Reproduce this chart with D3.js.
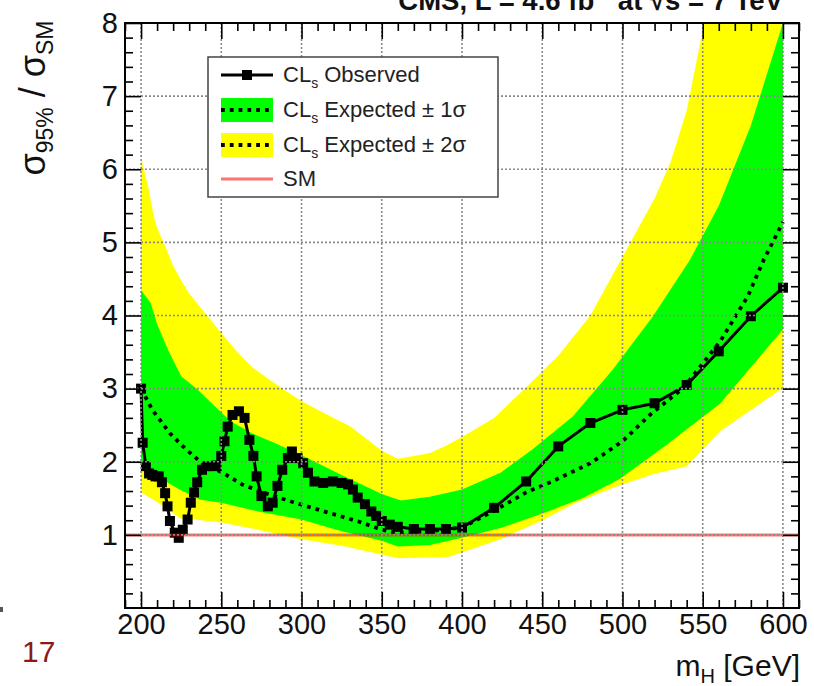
<!DOCTYPE html>
<html><head><meta charset="utf-8">
<script src="https://cdn.jsdelivr.net/npm/d3@7/dist/d3.min.js"></script>
<style>
body{margin:0;background:#fff}
svg{display:block}
text{font-family:"Liberation Sans",Arial,Helvetica,sans-serif}
</style>
</head><body>
<svg id="chart" width="814" height="686"></svg>
<script>
// ---------------- data ----------------
const xMajorTicks = [200,250,300,350,400,450,500,550,600];
const yMajorTicks = [1,2,3,4,5,6,7,8];

const obsMass = [200,201,203,205,207,209,211,213,215,216.5,218,221,223.5,226,229,231,233,235,238,241.5,245,247,250,252,254,257,261,264.5,267.5,270,272,275,279,282,285,288,291.5,294,297.5,301,304,308,313.5,319.5,325,329,332,335,339.5,343.5,346.5,350,355,360,370,380,390,400,420,440,460,480,500,520,540,560,580,600];
const obsValue = [3.0,2.26,1.94,1.84,1.82,1.80,1.80,1.72,1.57,1.39,1.19,1.03,0.96,1.07,1.21,1.44,1.58,1.72,1.89,1.94,1.94,1.95,2.08,2.28,2.48,2.64,2.69,2.60,2.30,2.08,1.80,1.53,1.39,1.44,1.67,1.89,2.05,2.14,2.05,1.98,1.85,1.73,1.71,1.73,1.71,1.69,1.62,1.51,1.42,1.32,1.26,1.19,1.14,1.11,1.08,1.08,1.08,1.10,1.37,1.73,2.21,2.53,2.71,2.80,3.05,3.51,3.99,4.38];

const expMass = [200,207,218,228,238,251,263,276,290,305,322,336,350,359,380,400,420,440,459,480,500,517,538,561,578,588,600];
const expValue = [3.0,2.71,2.39,2.17,1.98,1.85,1.69,1.58,1.48,1.38,1.27,1.18,1.07,1.03,1.05,1.10,1.33,1.58,1.76,1.98,2.28,2.64,3.01,3.65,4.26,4.76,5.28];

const up2Mass = [200,205,208,210,215,220,225,230,240,250,260,270,280,290,300,310,320,330,340,350,360,370,380,390,400,420,440,460,480,500,520,530,540,550,560,580,600];
const up2Value = [6.17,5.7,5.35,5.2,4.95,4.68,4.48,4.3,4.03,3.76,3.5,3.28,3.12,2.97,2.83,2.71,2.6,2.49,2.32,2.15,2.04,2.08,2.12,2.22,2.34,2.6,3.02,3.45,4.0,4.8,5.6,6.1,6.8,7.9,9.2,11.5,14.0];

const up1Mass = [200,206,210,217,225,235,244,256,270,283,300,325,350,362,380,400,424,444,469,494,519,542,560,580,600];
const up1Value = [4.35,4.17,3.88,3.52,3.17,2.99,2.80,2.55,2.38,2.26,2.09,1.82,1.56,1.47,1.52,1.62,1.85,2.17,2.62,3.26,3.99,4.76,5.5,6.6,8.0];

const dn1Mass = [200,205,213,224,237,250,273,300,325,350,360,380,400,425,451,475,498,528,561,600];
const dn1Value = [2.02,1.9,1.76,1.62,1.48,1.44,1.32,1.21,1.05,0.92,0.84,0.86,0.96,1.1,1.30,1.5,1.76,2.24,2.80,3.81];

const dn2Mass = [200,210,225,233,250,273,300,325,350,360,392,424,450,471,495,519,540,561,600];
const dn2Value = [1.58,1.45,1.22,1.21,1.17,1.07,0.94,0.85,0.73,0.68,0.70,0.94,1.2,1.44,1.65,1.83,1.94,2.42,3.01];

const smValue = 1;

const legendLabels = ["Observed","Expected \u00b1 1\u03c3","Expected \u00b1 2\u03c3","SM"];

// ---------------- layout ----------------
const svg = d3.select("#chart");
const L = 125, R = 799, T = 23, B = 608;
const x = d3.scaleLinear().domain([190,610]).range([L,R]);
const y = d3.scaleLinear().domain([0,8]).range([B,T]);

svg.append("defs").append("clipPath").attr("id","plotclip")
  .append("rect").attr("x",L).attr("y",T).attr("width",R-L).attr("height",B-T);

const plot = svg.append("g").attr("clip-path","url(#plotclip)");

const zip = (ms, vs) => ms.map((m,i)=>[m,vs[i]]);
const lineGen = d3.line().x(d=>x(d[0])).y(d=>y(d[1]));

function band(upM, upV, dnM, dnV){
  const pts = zip(upM,upV).concat(zip(dnM,dnV).reverse());
  return lineGen(pts) + "Z";
}

plot.append("path").attr("d", band(up2Mass,up2Value,dn2Mass,dn2Value)).attr("fill","#ffff00");
plot.append("path").attr("d", band(up1Mass,up1Value,dn1Mass,dn1Value)).attr("fill","#00ff00");

// grid
const grid = svg.append("g");
grid.selectAll("line.gx").data(xMajorTicks).join("line")
  .attr("x1",d=>x(d)).attr("x2",d=>x(d)).attr("y1",T).attr("y2",B)
  .attr("stroke","#8a8a8a").attr("stroke-width",1.6).attr("stroke-dasharray","2,2");
grid.selectAll("line.gy").data(yMajorTicks.filter(v=>v<8)).join("line")
  .attr("y1",d=>y(d)).attr("y2",d=>y(d)).attr("x1",L).attr("x2",R)
  .attr("stroke","#8a8a8a").attr("stroke-width",1.6).attr("stroke-dasharray","2,2");

// expected
plot.append("path").attr("d", lineGen(zip(expMass,expValue)))
  .attr("fill","none").attr("stroke","#000").attr("stroke-width",3.8)
  .attr("stroke-dasharray","3.8,5");

// observed
const obs = zip(obsMass,obsValue);
plot.append("path").attr("d", lineGen(obs))
  .attr("fill","none").attr("stroke","#000").attr("stroke-width",3);
plot.selectAll("rect.obs").data(obs).join("rect")
  .attr("x",d=>x(d[0])-5).attr("y",d=>y(d[1])-5).attr("width",10).attr("height",10)
  .attr("fill","#000");

// SM line
plot.append("line").attr("x1",L).attr("x2",R).attr("y1",y(smValue)).attr("y2",y(smValue))
  .attr("stroke","#ff0000").attr("stroke-opacity",0.55).attr("stroke-width",3);

// axes
function styleAxis(g){
  g.select(".domain").remove();
  g.selectAll("line").attr("stroke","#000").attr("stroke-width",1.6);
  g.selectAll("text").attr("font-size",29).attr("fill","#111")
    .attr("font-family",'"Liberation Sans",Arial,sans-serif');
}
const xMinor = d3.range(190,611,10).filter(v=>v%50!==0);
const yMinor = d3.range(0,8.001,0.2).map(v=>+v.toFixed(1)).filter(v=>Math.abs(v-Math.round(v))>1e-6);

svg.append("g").attr("transform",`translate(0,${B})`)
  .call(d3.axisBottom(x).tickValues(xMajorTicks).tickSize(-16).tickPadding(5).tickFormat(d3.format("d"))).call(styleAxis);
svg.append("g").attr("transform",`translate(0,${B})`)
  .call(d3.axisBottom(x).tickValues(xMinor).tickSize(-8).tickFormat("")).call(styleAxis);
svg.append("g").attr("transform",`translate(0,${T})`)
  .call(d3.axisTop(x).tickValues(xMajorTicks).tickSize(-16).tickFormat("")).call(styleAxis);
svg.append("g").attr("transform",`translate(0,${T})`)
  .call(d3.axisTop(x).tickValues(xMinor).tickSize(-8).tickFormat("")).call(styleAxis);

svg.append("g").attr("transform",`translate(${L},0)`)
  .call(d3.axisLeft(y).tickValues(yMajorTicks).tickSize(-16).tickPadding(7).tickFormat(d3.format("d"))).call(styleAxis);
svg.append("g").attr("transform",`translate(${L},0)`)
  .call(d3.axisLeft(y).tickValues(yMinor).tickSize(-8).tickFormat("")).call(styleAxis);
svg.append("g").attr("transform",`translate(${R},0)`)
  .call(d3.axisRight(y).tickValues(yMajorTicks).tickSize(-16).tickFormat("")).call(styleAxis);
svg.append("g").attr("transform",`translate(${R},0)`)
  .call(d3.axisRight(y).tickValues(yMinor).tickSize(-8).tickFormat("")).call(styleAxis);

// frame
svg.append("rect").attr("x",L).attr("y",T).attr("width",R-L).attr("height",B-T)
  .attr("fill","none").attr("stroke","#000").attr("stroke-width",2);

// legend
const lg = svg.append("g");
lg.append("rect").attr("x",208).attr("y",57).attr("width",290).attr("height",140)
  .attr("fill","#fff").attr("stroke","#444").attr("stroke-width",1.5);
const rowY = [75,110,145,179];
const sx1 = 221, sx2 = 273, tx = 283;
lg.append("line").attr("x1",sx1).attr("x2",sx2).attr("y1",rowY[0]).attr("y2",rowY[0]).attr("stroke","#000").attr("stroke-width",3);
lg.append("rect").attr("x",(sx1+sx2)/2-5).attr("y",rowY[0]-5).attr("width",10).attr("height",10).attr("fill","#000");
lg.append("rect").attr("x",sx1).attr("y",rowY[1]-12).attr("width",sx2-sx1).attr("height",24).attr("fill","#00ff00");
lg.append("line").attr("x1",sx1).attr("x2",sx2).attr("y1",rowY[1]).attr("y2",rowY[1]).attr("stroke","#000").attr("stroke-width",3.8).attr("stroke-dasharray","3.8,5");
lg.append("rect").attr("x",sx1).attr("y",rowY[2]-12).attr("width",sx2-sx1).attr("height",24).attr("fill","#ffff00");
lg.append("line").attr("x1",sx1).attr("x2",sx2).attr("y1",rowY[2]).attr("y2",rowY[2]).attr("stroke","#000").attr("stroke-width",3.8).attr("stroke-dasharray","3.8,5");
lg.append("line").attr("x1",sx1).attr("x2",sx2).attr("y1",rowY[3]).attr("y2",rowY[3]).attr("stroke","#ff0000").attr("stroke-opacity",0.55).attr("stroke-width",3);

legendLabels.forEach((lab,i)=>{
  const t = lg.append("text").attr("x",tx).attr("y",rowY[i]+7).attr("font-size",22).attr("fill","#222");
  if(i<3){
    t.append("tspan").text("CL");
    t.append("tspan").attr("font-size",14).attr("dy",6).text("s");
    t.append("tspan").attr("dy",-6).text(" "+lab);
  } else {
    t.text(lab);
  }
});

// title (cut at top edge, as in the reference)
const tt = svg.append("text").attr("x",783).attr("y",10).attr("text-anchor","end")
  .attr("font-size",27.5).attr("font-weight","bold").attr("fill","#111");
tt.append("tspan").text("CMS, L = 4.6 fb");
tt.append("tspan").attr("font-size",18).attr("dy",-11).text("-1");
tt.append("tspan").attr("dy",11).text(" at \u221As = 7 TeV");

// y label
const yl = svg.append("text").attr("transform","translate(45,98) rotate(-90)")
  .attr("text-anchor","middle").attr("font-size",36).attr("fill","#111");
yl.append("tspan").text("\u03c3");
yl.append("tspan").attr("font-size",23).attr("dy",8).text("95%");
yl.append("tspan").attr("dy",-8).text(" / \u03c3");
yl.append("tspan").attr("font-size",23).attr("dy",8).text("SM");

// x label
const xl = svg.append("text").attr("x",800).attr("y",676).attr("text-anchor","end")
  .attr("font-size",30).attr("fill","#111");
xl.append("tspan").text("m");
xl.append("tspan").attr("font-size",20).attr("dy",7).text("H");
xl.append("tspan").attr("dy",-7).text(" [GeV]");

// slide number
svg.append("text").attr("x",22).attr("y",662).attr("font-size",30).attr("fill","#8b1a14").text("17");
svg.append("rect").attr("x",0).attr("y",607).attr("width",3).attr("height",5).attr("fill","#555");
</script>
</body></html>
